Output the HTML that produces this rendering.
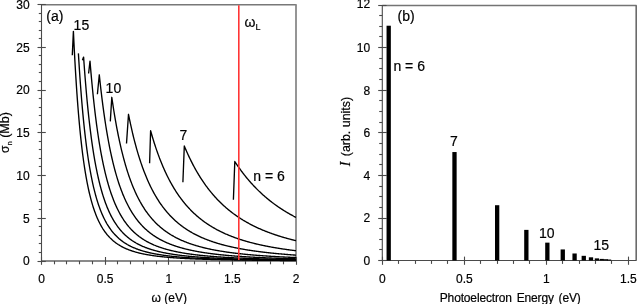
<!DOCTYPE html>
<html><head><meta charset="utf-8"><style>
html,body{margin:0;padding:0;background:#fff;}
body{width:637px;height:304px;overflow:hidden;}
svg{display:block;font-family:"Liberation Sans", sans-serif;will-change:transform;}
text{fill:#000;stroke:#000;stroke-width:0.2px;}
</style></head><body>
<svg width="637" height="304" viewBox="0 0 637 304">
<line x1="41.5" y1="4.75" x2="296.5" y2="4.75" stroke="#787878" stroke-width="1.6"/>
<line x1="296.0" y1="4.5" x2="296.0" y2="261.0" stroke="#8a8a8a" stroke-width="1.8"/>
<line x1="41.5" y1="261.0" x2="296.0" y2="261.0" stroke="#8a8a8a" stroke-width="1.8"/>
<line x1="41.5" y1="4.5" x2="41.5" y2="261.0" stroke="#4a4a4a" stroke-width="1.1"/>
<line x1="37.5" y1="261.50" x2="45.8" y2="261.50" stroke="#4a4a4a" stroke-width="1.1"/>
<line x1="38.8" y1="252.50" x2="41.5" y2="252.50" stroke="#4a4a4a" stroke-width="1.1"/>
<line x1="38.8" y1="243.50" x2="41.5" y2="243.50" stroke="#4a4a4a" stroke-width="1.1"/>
<line x1="38.8" y1="235.50" x2="41.5" y2="235.50" stroke="#4a4a4a" stroke-width="1.1"/>
<line x1="38.8" y1="226.50" x2="41.5" y2="226.50" stroke="#4a4a4a" stroke-width="1.1"/>
<line x1="37.5" y1="218.50" x2="45.8" y2="218.50" stroke="#4a4a4a" stroke-width="1.1"/>
<line x1="38.8" y1="209.50" x2="41.5" y2="209.50" stroke="#4a4a4a" stroke-width="1.1"/>
<line x1="38.8" y1="201.50" x2="41.5" y2="201.50" stroke="#4a4a4a" stroke-width="1.1"/>
<line x1="38.8" y1="192.50" x2="41.5" y2="192.50" stroke="#4a4a4a" stroke-width="1.1"/>
<line x1="38.8" y1="184.50" x2="41.5" y2="184.50" stroke="#4a4a4a" stroke-width="1.1"/>
<line x1="37.5" y1="175.50" x2="45.8" y2="175.50" stroke="#4a4a4a" stroke-width="1.1"/>
<line x1="38.8" y1="166.50" x2="41.5" y2="166.50" stroke="#4a4a4a" stroke-width="1.1"/>
<line x1="38.8" y1="158.50" x2="41.5" y2="158.50" stroke="#4a4a4a" stroke-width="1.1"/>
<line x1="38.8" y1="149.50" x2="41.5" y2="149.50" stroke="#4a4a4a" stroke-width="1.1"/>
<line x1="38.8" y1="141.50" x2="41.5" y2="141.50" stroke="#4a4a4a" stroke-width="1.1"/>
<line x1="37.5" y1="132.50" x2="45.8" y2="132.50" stroke="#4a4a4a" stroke-width="1.1"/>
<line x1="38.8" y1="124.50" x2="41.5" y2="124.50" stroke="#4a4a4a" stroke-width="1.1"/>
<line x1="38.8" y1="115.50" x2="41.5" y2="115.50" stroke="#4a4a4a" stroke-width="1.1"/>
<line x1="38.8" y1="107.50" x2="41.5" y2="107.50" stroke="#4a4a4a" stroke-width="1.1"/>
<line x1="38.8" y1="98.50" x2="41.5" y2="98.50" stroke="#4a4a4a" stroke-width="1.1"/>
<line x1="37.5" y1="90.50" x2="45.8" y2="90.50" stroke="#4a4a4a" stroke-width="1.1"/>
<line x1="38.8" y1="81.50" x2="41.5" y2="81.50" stroke="#4a4a4a" stroke-width="1.1"/>
<line x1="38.8" y1="72.50" x2="41.5" y2="72.50" stroke="#4a4a4a" stroke-width="1.1"/>
<line x1="38.8" y1="64.50" x2="41.5" y2="64.50" stroke="#4a4a4a" stroke-width="1.1"/>
<line x1="38.8" y1="55.50" x2="41.5" y2="55.50" stroke="#4a4a4a" stroke-width="1.1"/>
<line x1="37.5" y1="47.50" x2="45.8" y2="47.50" stroke="#4a4a4a" stroke-width="1.1"/>
<line x1="38.8" y1="38.50" x2="41.5" y2="38.50" stroke="#4a4a4a" stroke-width="1.1"/>
<line x1="38.8" y1="30.50" x2="41.5" y2="30.50" stroke="#4a4a4a" stroke-width="1.1"/>
<line x1="38.8" y1="21.50" x2="41.5" y2="21.50" stroke="#4a4a4a" stroke-width="1.1"/>
<line x1="38.8" y1="13.50" x2="41.5" y2="13.50" stroke="#4a4a4a" stroke-width="1.1"/>
<line x1="37.5" y1="4.50" x2="45.8" y2="4.50" stroke="#4a4a4a" stroke-width="1.1"/>
<line x1="41.50" y1="257" x2="41.50" y2="264.8" stroke="#4a4a4a" stroke-width="1.1"/>
<line x1="54.50" y1="261.0" x2="54.50" y2="264.3" stroke="#4a4a4a" stroke-width="1.1"/>
<line x1="66.50" y1="261.0" x2="66.50" y2="264.3" stroke="#4a4a4a" stroke-width="1.1"/>
<line x1="79.50" y1="261.0" x2="79.50" y2="264.3" stroke="#4a4a4a" stroke-width="1.1"/>
<line x1="92.50" y1="261.0" x2="92.50" y2="264.3" stroke="#4a4a4a" stroke-width="1.1"/>
<line x1="105.50" y1="257" x2="105.50" y2="264.8" stroke="#4a4a4a" stroke-width="1.1"/>
<line x1="117.50" y1="261.0" x2="117.50" y2="264.3" stroke="#4a4a4a" stroke-width="1.1"/>
<line x1="130.50" y1="261.0" x2="130.50" y2="264.3" stroke="#4a4a4a" stroke-width="1.1"/>
<line x1="143.50" y1="261.0" x2="143.50" y2="264.3" stroke="#4a4a4a" stroke-width="1.1"/>
<line x1="156.50" y1="261.0" x2="156.50" y2="264.3" stroke="#4a4a4a" stroke-width="1.1"/>
<line x1="168.50" y1="257" x2="168.50" y2="264.8" stroke="#4a4a4a" stroke-width="1.1"/>
<line x1="181.50" y1="261.0" x2="181.50" y2="264.3" stroke="#4a4a4a" stroke-width="1.1"/>
<line x1="194.50" y1="261.0" x2="194.50" y2="264.3" stroke="#4a4a4a" stroke-width="1.1"/>
<line x1="206.50" y1="261.0" x2="206.50" y2="264.3" stroke="#4a4a4a" stroke-width="1.1"/>
<line x1="219.50" y1="261.0" x2="219.50" y2="264.3" stroke="#4a4a4a" stroke-width="1.1"/>
<line x1="232.50" y1="257" x2="232.50" y2="264.8" stroke="#4a4a4a" stroke-width="1.1"/>
<line x1="245.50" y1="261.0" x2="245.50" y2="264.3" stroke="#4a4a4a" stroke-width="1.1"/>
<line x1="257.50" y1="261.0" x2="257.50" y2="264.3" stroke="#4a4a4a" stroke-width="1.1"/>
<line x1="270.50" y1="261.0" x2="270.50" y2="264.3" stroke="#4a4a4a" stroke-width="1.1"/>
<line x1="283.50" y1="261.0" x2="283.50" y2="264.3" stroke="#4a4a4a" stroke-width="1.1"/>
<line x1="296.50" y1="257" x2="296.50" y2="264.8" stroke="#4a4a4a" stroke-width="1.1"/>
<line x1="382.3" y1="5.5" x2="636.5" y2="5.5" stroke="#747474" stroke-width="1.6"/>
<line x1="636.2" y1="5.3" x2="636.2" y2="260.5" stroke="#6a6a6a" stroke-width="1.6"/>
<line x1="382.3" y1="260.5" x2="636.5" y2="260.5" stroke="#4a4a4a" stroke-width="1.1"/>
<line x1="382.3" y1="5.3" x2="382.3" y2="260.5" stroke="#4a4a4a" stroke-width="1.1"/>
<line x1="378.2" y1="260.50" x2="386.6" y2="260.50" stroke="#4a4a4a" stroke-width="1.1"/>
<line x1="379.2" y1="249.50" x2="382.3" y2="249.50" stroke="#4a4a4a" stroke-width="1.1"/>
<line x1="379.2" y1="239.50" x2="382.3" y2="239.50" stroke="#4a4a4a" stroke-width="1.1"/>
<line x1="379.2" y1="228.50" x2="382.3" y2="228.50" stroke="#4a4a4a" stroke-width="1.1"/>
<line x1="378.2" y1="218.50" x2="386.6" y2="218.50" stroke="#4a4a4a" stroke-width="1.1"/>
<line x1="379.2" y1="207.50" x2="382.3" y2="207.50" stroke="#4a4a4a" stroke-width="1.1"/>
<line x1="379.2" y1="196.50" x2="382.3" y2="196.50" stroke="#4a4a4a" stroke-width="1.1"/>
<line x1="379.2" y1="186.50" x2="382.3" y2="186.50" stroke="#4a4a4a" stroke-width="1.1"/>
<line x1="378.2" y1="175.50" x2="386.6" y2="175.50" stroke="#4a4a4a" stroke-width="1.1"/>
<line x1="379.2" y1="164.50" x2="382.3" y2="164.50" stroke="#4a4a4a" stroke-width="1.1"/>
<line x1="379.2" y1="154.50" x2="382.3" y2="154.50" stroke="#4a4a4a" stroke-width="1.1"/>
<line x1="379.2" y1="143.50" x2="382.3" y2="143.50" stroke="#4a4a4a" stroke-width="1.1"/>
<line x1="378.2" y1="132.50" x2="386.6" y2="132.50" stroke="#4a4a4a" stroke-width="1.1"/>
<line x1="379.2" y1="122.50" x2="382.3" y2="122.50" stroke="#4a4a4a" stroke-width="1.1"/>
<line x1="379.2" y1="111.50" x2="382.3" y2="111.50" stroke="#4a4a4a" stroke-width="1.1"/>
<line x1="379.2" y1="100.50" x2="382.3" y2="100.50" stroke="#4a4a4a" stroke-width="1.1"/>
<line x1="378.2" y1="90.50" x2="386.6" y2="90.50" stroke="#4a4a4a" stroke-width="1.1"/>
<line x1="379.2" y1="79.50" x2="382.3" y2="79.50" stroke="#4a4a4a" stroke-width="1.1"/>
<line x1="379.2" y1="68.50" x2="382.3" y2="68.50" stroke="#4a4a4a" stroke-width="1.1"/>
<line x1="379.2" y1="58.50" x2="382.3" y2="58.50" stroke="#4a4a4a" stroke-width="1.1"/>
<line x1="378.2" y1="47.50" x2="386.6" y2="47.50" stroke="#4a4a4a" stroke-width="1.1"/>
<line x1="379.2" y1="36.50" x2="382.3" y2="36.50" stroke="#4a4a4a" stroke-width="1.1"/>
<line x1="379.2" y1="26.50" x2="382.3" y2="26.50" stroke="#4a4a4a" stroke-width="1.1"/>
<line x1="379.2" y1="15.50" x2="382.3" y2="15.50" stroke="#4a4a4a" stroke-width="1.1"/>
<line x1="378.2" y1="5.50" x2="386.6" y2="5.50" stroke="#4a4a4a" stroke-width="1.1"/>
<line x1="382.50" y1="256.6" x2="382.50" y2="264.8" stroke="#4a4a4a" stroke-width="1.1"/>
<line x1="398.50" y1="260.5" x2="398.50" y2="263.9" stroke="#4a4a4a" stroke-width="1.1"/>
<line x1="415.50" y1="260.5" x2="415.50" y2="263.9" stroke="#4a4a4a" stroke-width="1.1"/>
<line x1="431.50" y1="260.5" x2="431.50" y2="263.9" stroke="#4a4a4a" stroke-width="1.1"/>
<line x1="447.50" y1="260.5" x2="447.50" y2="263.9" stroke="#4a4a4a" stroke-width="1.1"/>
<line x1="464.50" y1="256.6" x2="464.50" y2="264.8" stroke="#4a4a4a" stroke-width="1.1"/>
<line x1="480.50" y1="260.5" x2="480.50" y2="263.9" stroke="#4a4a4a" stroke-width="1.1"/>
<line x1="497.50" y1="260.5" x2="497.50" y2="263.9" stroke="#4a4a4a" stroke-width="1.1"/>
<line x1="513.50" y1="260.5" x2="513.50" y2="263.9" stroke="#4a4a4a" stroke-width="1.1"/>
<line x1="529.50" y1="260.5" x2="529.50" y2="263.9" stroke="#4a4a4a" stroke-width="1.1"/>
<line x1="546.50" y1="256.6" x2="546.50" y2="264.8" stroke="#4a4a4a" stroke-width="1.1"/>
<line x1="562.50" y1="260.5" x2="562.50" y2="263.9" stroke="#4a4a4a" stroke-width="1.1"/>
<line x1="579.50" y1="260.5" x2="579.50" y2="263.9" stroke="#4a4a4a" stroke-width="1.1"/>
<line x1="595.50" y1="260.5" x2="595.50" y2="263.9" stroke="#4a4a4a" stroke-width="1.1"/>
<line x1="611.50" y1="260.5" x2="611.50" y2="263.9" stroke="#4a4a4a" stroke-width="1.1"/>
<line x1="628.50" y1="256.6" x2="628.50" y2="264.8" stroke="#4a4a4a" stroke-width="1.1"/>
<path d="M72.30,55.20 L73.40,31.40 L73.91,42.05 L74.42,52.05 L74.93,61.45 L75.44,70.30 L75.95,78.62 L76.45,86.48 L76.96,93.88 L77.47,100.88 L77.98,107.49 L78.49,113.74 L79.00,119.65 L79.51,125.26 L80.02,130.57 L80.53,135.60 L81.04,140.39 L81.54,144.93 L82.05,149.24 L82.56,153.35 L83.07,157.25 L83.58,160.97 L84.09,164.52 L84.60,167.90 L85.11,171.12 L85.62,174.19 L86.13,177.13 L86.63,179.94 L87.14,182.62 L87.65,185.18 L88.16,187.64 L88.67,189.99 L89.18,192.24 L89.69,194.39 L90.20,196.46 L90.71,198.44 L91.22,200.34 L91.72,202.17 L92.23,203.92 L92.74,205.61 L93.25,207.22 L93.76,208.78 L94.27,210.28 L94.78,211.72 L95.29,213.10 L95.80,214.44 L96.31,215.72 L96.81,216.96 L97.32,218.15 L97.83,219.31 L98.34,220.42 L98.85,221.49 L99.36,222.52 L99.87,223.52 L100.38,224.48 L100.89,225.41 L101.40,226.31 L101.90,227.18 L102.41,228.02 L102.92,228.84 L103.43,229.62 L103.94,230.38 L104.45,231.12 L104.96,231.83 L105.47,232.52 L105.98,233.19 L106.49,233.84 L106.99,234.47 L107.50,235.08 L108.01,235.67 L108.52,236.24 L109.03,236.80 L109.54,237.34 L110.05,237.86 L110.56,238.37 L111.07,238.86 L111.58,239.34 L112.08,239.81 L112.59,240.26 L113.10,240.70 L113.61,241.12 L114.12,241.54 L114.63,241.94 L115.14,242.33 L115.65,242.72 L116.16,243.09 L116.67,243.45 L117.17,243.80 L117.68,244.14 L118.19,244.48 L118.70,244.80 L119.21,245.12 L119.72,245.43 L120.23,245.73 L120.74,246.02 L121.25,246.30 L121.76,246.58 L122.26,246.85 L122.77,247.12 L123.28,247.37 L123.79,247.63 L124.30,247.87 L124.81,248.11 L125.32,248.34 L125.83,248.57 L126.34,248.79 L126.85,249.01 L127.35,249.22 L127.86,249.43 L128.37,249.63 L128.88,249.83 L129.39,250.02 L129.90,250.21 L130.41,250.39 L130.92,250.57 L131.43,250.75 L131.94,250.92 L132.44,251.09 L132.95,251.26 L133.46,251.42 L133.97,251.57 L134.48,251.73 L134.99,251.88 L135.50,252.03 L136.01,252.17 L136.52,252.31 L137.03,252.45 L137.53,252.58 L138.04,252.72 L138.55,252.85 L139.06,252.97 L139.57,253.10 L140.08,253.22 L140.59,253.34 L141.10,253.46 L141.61,253.57 L142.12,253.68 L142.62,253.79 L143.13,253.90 L143.64,254.01 L144.15,254.11 L144.66,254.21 L145.17,254.31 L145.68,254.41 L146.19,254.50 L146.70,254.60 L147.21,254.69 L147.71,254.78 L148.22,254.87 L148.73,254.96 L149.24,255.04 L149.75,255.12 L150.26,255.21 L150.77,255.29 L151.28,255.37 L151.79,255.44 L152.30,255.52 L152.80,255.59 L153.31,255.67 L153.82,255.74 L154.33,255.81 L154.84,255.88 L155.35,255.95 L155.86,256.02 L156.37,256.08 L156.88,256.15 L157.39,256.21 L157.89,256.27 L158.40,256.33 L158.91,256.40 L159.42,256.45 L159.93,256.51 L160.44,256.57 L160.95,256.63 L161.46,256.68 L161.97,256.74 L162.48,256.79 L162.98,256.84 L163.49,256.89 L164.00,256.95 L164.51,257.00 L165.02,257.05 L165.53,257.09 L166.04,257.14 L166.55,257.19 L167.06,257.23 L167.57,257.28 L168.07,257.32 L168.58,257.37 L169.09,257.41 L169.60,257.45 L170.11,257.50 L170.62,257.54 L171.13,257.58 L171.64,257.62 L172.15,257.66 L172.66,257.70 L173.16,257.73 L173.67,257.77 L174.18,257.81 L174.69,257.85 L175.20,257.88 L175.71,257.92 L176.22,257.95 L176.73,257.99 L177.24,258.02 L177.75,258.05 L178.25,258.09 L178.76,258.12 L179.27,258.15 L179.78,258.18 L180.29,258.21 L180.80,258.24 L181.31,258.27 L181.82,258.30 L182.33,258.33 L182.84,258.36 L183.34,258.39 L183.85,258.42 L184.36,258.44 L184.87,258.47 L185.38,258.50 L185.89,258.52 L186.40,258.55 L186.91,258.58 L187.42,258.60 L187.93,258.63 L188.43,258.65 L188.94,258.67 L189.45,258.70 L189.96,258.72 L190.47,258.75 L190.98,258.77 L191.49,258.79 L192.00,258.81 L192.51,258.84 L193.02,258.86 L193.52,258.88 L194.03,258.90 L194.54,258.92 L195.05,258.94 L195.56,258.96 L196.07,258.98 L196.58,259.00 L197.09,259.02 L197.60,259.04 L198.11,259.06 L198.61,259.08 L199.12,259.10 L199.63,259.12 L200.14,259.13 L200.65,259.15 L201.16,259.17 L201.67,259.19 L202.18,259.20 L202.69,259.22 L203.20,259.24 L203.70,259.25 L204.21,259.27 L204.72,259.29 L205.23,259.30 L205.74,259.32 L206.25,259.33 L206.76,259.35 L207.27,259.36 L207.78,259.38 L208.29,259.39 L208.79,259.41 L209.30,259.42 L209.81,259.44 L210.32,259.45 L210.83,259.46 L211.34,259.48 L211.85,259.49 L212.36,259.51 L212.87,259.52 L213.38,259.53 L213.88,259.55 L214.39,259.56 L214.90,259.57 L215.41,259.58 L215.92,259.60 L216.43,259.61 L216.94,259.62 L217.45,259.63 L217.96,259.64 L218.47,259.66 L218.97,259.67 L219.48,259.68 L219.99,259.69 L220.50,259.70 L221.01,259.71 L221.52,259.72 L222.03,259.73 L222.54,259.74 L223.05,259.75 L223.56,259.76 L224.06,259.78 L224.57,259.79 L225.08,259.80 L225.59,259.81 L226.10,259.82 L226.61,259.82 L227.12,259.83 L227.63,259.84 L228.14,259.85 L228.65,259.86 L229.15,259.87 L229.66,259.88 L230.17,259.89 L230.68,259.90 L231.19,259.91 L231.70,259.92 L232.21,259.93 L232.72,259.93 L233.23,259.94 L233.74,259.95 L234.24,259.96 L234.75,259.97 L235.26,259.98 L235.77,259.98 L236.28,259.99 L236.79,260.00 L237.30,260.01 L237.81,260.01 L238.32,260.02 L238.83,260.03 L239.33,260.04 L239.84,260.04 L240.35,260.05 L240.86,260.06 L241.37,260.07 L241.88,260.07 L242.39,260.08 L242.90,260.09 L243.41,260.09 L243.92,260.10 L244.42,260.11 L244.93,260.11 L245.44,260.12 L245.95,260.13 L246.46,260.13 L246.97,260.14 L247.48,260.15 L247.99,260.15 L248.50,260.16 L249.01,260.17 L249.51,260.17 L250.02,260.18 L250.53,260.18 L251.04,260.19 L251.55,260.20 L252.06,260.20 L252.57,260.21 L253.08,260.21 L253.59,260.22 L254.10,260.22 L254.60,260.23 L255.11,260.24 L255.62,260.24 L256.13,260.25 L256.64,260.25 L257.15,260.26 L257.66,260.26 L258.17,260.27 L258.68,260.27 L259.19,260.28 L259.69,260.28 L260.20,260.29 L260.71,260.29 L261.22,260.30 L261.73,260.30 L262.24,260.31 L262.75,260.31 L263.26,260.32 L263.77,260.32 L264.28,260.33 L264.78,260.33 L265.29,260.34 L265.80,260.34 L266.31,260.34 L266.82,260.35 L267.33,260.35 L267.84,260.36 L268.35,260.36 L268.86,260.37 L269.37,260.37 L269.87,260.37 L270.38,260.38 L270.89,260.38 L271.40,260.39 L271.91,260.39 L272.42,260.39 L272.93,260.40 L273.44,260.40 L273.95,260.41 L274.46,260.41 L274.96,260.41 L275.47,260.42 L275.98,260.42 L276.49,260.43 L277.00,260.43 L277.51,260.43 L278.02,260.44 L278.53,260.44 L279.04,260.44 L279.55,260.45 L280.05,260.45 L280.56,260.45 L281.07,260.46 L281.58,260.46 L282.09,260.46 L282.60,260.47 L283.11,260.47 L283.62,260.47 L284.13,260.48 L284.64,260.48 L285.14,260.48 L285.65,260.49 L286.16,260.49 L286.67,260.49 L287.18,260.50 L287.69,260.50 L288.20,260.50 L288.71,260.51 L289.22,260.51 L289.73,260.51 L290.23,260.52 L290.74,260.52 L291.25,260.52 L291.76,260.52 L292.27,260.53 L292.78,260.53 L293.29,260.53 L293.80,260.54 L294.31,260.54 L294.82,260.54 L295.32,260.54 L295.83,260.55 L296.00,260.55" fill="none" stroke="#000" stroke-width="1.35" stroke-linejoin="round"/>
<path d="M78.40,53.40 L78.91,61.76 L79.42,69.68 L79.93,77.18 L80.44,84.29 L80.95,91.05 L81.45,97.46 L81.96,103.55 L82.47,109.35 L82.98,114.86 L83.49,120.11 L84.00,125.12 L84.51,129.88 L85.02,134.43 L85.53,138.77 L86.04,142.91 L86.54,146.87 L87.05,150.65 L87.56,154.27 L88.07,157.73 L88.58,161.05 L89.09,164.22 L89.60,167.26 L90.11,170.17 L90.62,172.97 L91.13,175.65 L91.63,178.22 L92.14,180.69 L92.65,183.07 L93.16,185.35 L93.67,187.54 L94.18,189.65 L94.69,191.68 L95.20,193.63 L95.71,195.51 L96.22,197.32 L96.72,199.07 L97.23,200.75 L97.74,202.37 L98.25,203.93 L98.76,205.44 L99.27,206.90 L99.78,208.30 L100.29,209.66 L100.80,210.97 L101.31,212.24 L101.81,213.46 L102.32,214.64 L102.83,215.79 L103.34,216.90 L103.85,217.97 L104.36,219.00 L104.87,220.01 L105.38,220.98 L105.89,221.92 L106.40,222.83 L106.90,223.72 L107.41,224.58 L107.92,225.41 L108.43,226.21 L108.94,226.99 L109.45,227.75 L109.96,228.49 L110.47,229.20 L110.98,229.90 L111.49,230.57 L111.99,231.23 L112.50,231.86 L113.01,232.48 L113.52,233.08 L114.03,233.66 L114.54,234.23 L115.05,234.78 L115.56,235.32 L116.07,235.84 L116.58,236.35 L117.08,236.84 L117.59,237.33 L118.10,237.79 L118.61,238.25 L119.12,238.70 L119.63,239.13 L120.14,239.55 L120.65,239.96 L121.16,240.36 L121.67,240.75 L122.17,241.13 L122.68,241.51 L123.19,241.87 L123.70,242.22 L124.21,242.57 L124.72,242.90 L125.23,243.23 L125.74,243.55 L126.25,243.86 L126.76,244.17 L127.26,244.47 L127.77,244.76 L128.28,245.04 L128.79,245.32 L129.30,245.59 L129.81,245.85 L130.32,246.11 L130.83,246.37 L131.34,246.61 L131.85,246.86 L132.35,247.09 L132.86,247.32 L133.37,247.55 L133.88,247.77 L134.39,247.99 L134.90,248.20 L135.41,248.40 L135.92,248.61 L136.43,248.81 L136.94,249.00 L137.44,249.19 L137.95,249.38 L138.46,249.56 L138.97,249.74 L139.48,249.91 L139.99,250.08 L140.50,250.25 L141.01,250.41 L141.52,250.57 L142.03,250.73 L142.53,250.89 L143.04,251.04 L143.55,251.19 L144.06,251.33 L144.57,251.47 L145.08,251.61 L145.59,251.75 L146.10,251.89 L146.61,252.02 L147.12,252.15 L147.62,252.27 L148.13,252.40 L148.64,252.52 L149.15,252.64 L149.66,252.76 L150.17,252.87 L150.68,252.99 L151.19,253.10 L151.70,253.21 L152.21,253.31 L152.71,253.42 L153.22,253.52 L153.73,253.62 L154.24,253.72 L154.75,253.82 L155.26,253.91 L155.77,254.01 L156.28,254.10 L156.79,254.19 L157.30,254.28 L157.80,254.37 L158.31,254.46 L158.82,254.54 L159.33,254.62 L159.84,254.71 L160.35,254.79 L160.86,254.87 L161.37,254.94 L161.88,255.02 L162.39,255.10 L162.89,255.17 L163.40,255.24 L163.91,255.31 L164.42,255.38 L164.93,255.45 L165.44,255.52 L165.95,255.59 L166.46,255.65 L166.97,255.72 L167.48,255.78 L167.98,255.85 L168.49,255.91 L169.00,255.97 L169.51,256.03 L170.02,256.09 L170.53,256.14 L171.04,256.20 L171.55,256.26 L172.06,256.31 L172.57,256.37 L173.07,256.42 L173.58,256.47 L174.09,256.53 L174.60,256.58 L175.11,256.63 L175.62,256.68 L176.13,256.73 L176.64,256.77 L177.15,256.82 L177.66,256.87 L178.16,256.91 L178.67,256.96 L179.18,257.00 L179.69,257.05 L180.20,257.09 L180.71,257.13 L181.22,257.18 L181.73,257.22 L182.24,257.26 L182.75,257.30 L183.25,257.34 L183.76,257.38 L184.27,257.42 L184.78,257.45 L185.29,257.49 L185.80,257.53 L186.31,257.56 L186.82,257.60 L187.33,257.64 L187.84,257.67 L188.34,257.71 L188.85,257.74 L189.36,257.77 L189.87,257.81 L190.38,257.84 L190.89,257.87 L191.40,257.90 L191.91,257.93 L192.42,257.97 L192.93,258.00 L193.43,258.03 L193.94,258.06 L194.45,258.08 L194.96,258.11 L195.47,258.14 L195.98,258.17 L196.49,258.20 L197.00,258.23 L197.51,258.25 L198.02,258.28 L198.52,258.31 L199.03,258.33 L199.54,258.36 L200.05,258.38 L200.56,258.41 L201.07,258.43 L201.58,258.46 L202.09,258.48 L202.60,258.51 L203.11,258.53 L203.61,258.55 L204.12,258.57 L204.63,258.60 L205.14,258.62 L205.65,258.64 L206.16,258.66 L206.67,258.69 L207.18,258.71 L207.69,258.73 L208.20,258.75 L208.70,258.77 L209.21,258.79 L209.72,258.81 L210.23,258.83 L210.74,258.85 L211.25,258.87 L211.76,258.89 L212.27,258.91 L212.78,258.92 L213.29,258.94 L213.79,258.96 L214.30,258.98 L214.81,259.00 L215.32,259.01 L215.83,259.03 L216.34,259.05 L216.85,259.07 L217.36,259.08 L217.87,259.10 L218.38,259.12 L218.88,259.13 L219.39,259.15 L219.90,259.16 L220.41,259.18 L220.92,259.19 L221.43,259.21 L221.94,259.22 L222.45,259.24 L222.96,259.25 L223.47,259.27 L223.97,259.28 L224.48,259.30 L224.99,259.31 L225.50,259.33 L226.01,259.34 L226.52,259.35 L227.03,259.37 L227.54,259.38 L228.05,259.39 L228.56,259.41 L229.06,259.42 L229.57,259.43 L230.08,259.44 L230.59,259.46 L231.10,259.47 L231.61,259.48 L232.12,259.49 L232.63,259.51 L233.14,259.52 L233.65,259.53 L234.15,259.54 L234.66,259.55 L235.17,259.56 L235.68,259.58 L236.19,259.59 L236.70,259.60 L237.21,259.61 L237.72,259.62 L238.23,259.63 L238.74,259.64 L239.24,259.65 L239.75,259.66 L240.26,259.67 L240.77,259.68 L241.28,259.69 L241.79,259.70 L242.30,259.71 L242.81,259.72 L243.32,259.73 L243.83,259.74 L244.33,259.75 L244.84,259.76 L245.35,259.77 L245.86,259.78 L246.37,259.79 L246.88,259.80 L247.39,259.80 L247.90,259.81 L248.41,259.82 L248.92,259.83 L249.42,259.84 L249.93,259.85 L250.44,259.86 L250.95,259.86 L251.46,259.87 L251.97,259.88 L252.48,259.89 L252.99,259.90 L253.50,259.91 L254.01,259.91 L254.51,259.92 L255.02,259.93 L255.53,259.94 L256.04,259.94 L256.55,259.95 L257.06,259.96 L257.57,259.97 L258.08,259.97 L258.59,259.98 L259.10,259.99 L259.60,259.99 L260.11,260.00 L260.62,260.01 L261.13,260.02 L261.64,260.02 L262.15,260.03 L262.66,260.04 L263.17,260.04 L263.68,260.05 L264.19,260.06 L264.69,260.06 L265.20,260.07 L265.71,260.07 L266.22,260.08 L266.73,260.09 L267.24,260.09 L267.75,260.10 L268.26,260.11 L268.77,260.11 L269.28,260.12 L269.78,260.12 L270.29,260.13 L270.80,260.13 L271.31,260.14 L271.82,260.15 L272.33,260.15 L272.84,260.16 L273.35,260.16 L273.86,260.17 L274.37,260.17 L274.87,260.18 L275.38,260.18 L275.89,260.19 L276.40,260.20 L276.91,260.20 L277.42,260.21 L277.93,260.21 L278.44,260.22 L278.95,260.22 L279.46,260.23 L279.96,260.23 L280.47,260.24 L280.98,260.24 L281.49,260.25 L282.00,260.25 L282.51,260.25 L283.02,260.26 L283.53,260.26 L284.04,260.27 L284.55,260.27 L285.05,260.28 L285.56,260.28 L286.07,260.29 L286.58,260.29 L287.09,260.30 L287.60,260.30 L288.11,260.30 L288.62,260.31 L289.13,260.31 L289.64,260.32 L290.14,260.32 L290.65,260.33 L291.16,260.33 L291.67,260.33 L292.18,260.34 L292.69,260.34 L293.20,260.35 L293.71,260.35 L294.22,260.35 L294.73,260.36 L295.23,260.36 L295.74,260.37 L296.00,260.37" fill="none" stroke="#000" stroke-width="1.35" stroke-linejoin="round"/>
<path d="M82.40,60.30 L83.60,57.10 L84.11,64.32 L84.62,71.20 L85.13,77.77 L85.64,84.04 L86.14,90.02 L86.65,95.74 L87.16,101.20 L87.67,106.43 L88.18,111.43 L88.69,116.22 L89.20,120.80 L89.71,125.20 L90.22,129.41 L90.73,133.45 L91.23,137.33 L91.74,141.05 L92.25,144.62 L92.76,148.05 L93.27,151.35 L93.78,154.52 L94.29,157.57 L94.80,160.51 L95.31,163.33 L95.82,166.05 L96.33,168.67 L96.83,171.20 L97.34,173.63 L97.85,175.98 L98.36,178.24 L98.87,180.42 L99.38,182.53 L99.89,184.56 L100.40,186.53 L100.91,188.43 L101.42,190.26 L101.92,192.03 L102.43,193.75 L102.94,195.41 L103.45,197.01 L103.96,198.56 L104.47,200.06 L104.98,201.52 L105.49,202.93 L106.00,204.29 L106.51,205.61 L107.01,206.89 L107.52,208.13 L108.03,209.34 L108.54,210.51 L109.05,211.64 L109.56,212.74 L110.07,213.80 L110.58,214.84 L111.09,215.85 L111.60,216.82 L112.10,217.77 L112.61,218.69 L113.12,219.59 L113.63,220.46 L114.14,221.30 L114.65,222.13 L115.16,222.93 L115.67,223.71 L116.18,224.46 L116.69,225.20 L117.19,225.92 L117.70,226.62 L118.21,227.30 L118.72,227.96 L119.23,228.60 L119.74,229.23 L120.25,229.84 L120.76,230.44 L121.27,231.02 L121.78,231.59 L122.28,232.14 L122.79,232.68 L123.30,233.20 L123.81,233.72 L124.32,234.22 L124.83,234.70 L125.34,235.18 L125.85,235.65 L126.36,236.10 L126.87,236.54 L127.37,236.97 L127.88,237.40 L128.39,237.81 L128.90,238.21 L129.41,238.61 L129.92,238.99 L130.43,239.37 L130.94,239.73 L131.45,240.09 L131.96,240.44 L132.46,240.79 L132.97,241.12 L133.48,241.45 L133.99,241.77 L134.50,242.08 L135.01,242.39 L135.52,242.69 L136.03,242.99 L136.54,243.27 L137.05,243.56 L137.55,243.83 L138.06,244.10 L138.57,244.37 L139.08,244.63 L139.59,244.88 L140.10,245.13 L140.61,245.37 L141.12,245.61 L141.63,245.84 L142.14,246.07 L142.64,246.30 L143.15,246.52 L143.66,246.73 L144.17,246.94 L144.68,247.15 L145.19,247.35 L145.70,247.55 L146.21,247.75 L146.72,247.94 L147.23,248.13 L147.73,248.31 L148.24,248.49 L148.75,248.67 L149.26,248.84 L149.77,249.01 L150.28,249.18 L150.79,249.34 L151.30,249.51 L151.81,249.66 L152.32,249.82 L152.82,249.97 L153.33,250.12 L153.84,250.27 L154.35,250.41 L154.86,250.56 L155.37,250.70 L155.88,250.83 L156.39,250.97 L156.90,251.10 L157.41,251.23 L157.91,251.36 L158.42,251.48 L158.93,251.60 L159.44,251.73 L159.95,251.85 L160.46,251.96 L160.97,252.08 L161.48,252.19 L161.99,252.30 L162.50,252.41 L163.00,252.52 L163.51,252.62 L164.02,252.73 L164.53,252.83 L165.04,252.93 L165.55,253.03 L166.06,253.13 L166.57,253.22 L167.08,253.32 L167.59,253.41 L168.09,253.50 L168.60,253.59 L169.11,253.68 L169.62,253.77 L170.13,253.85 L170.64,253.94 L171.15,254.02 L171.66,254.10 L172.17,254.18 L172.68,254.26 L173.18,254.34 L173.69,254.41 L174.20,254.49 L174.71,254.56 L175.22,254.64 L175.73,254.71 L176.24,254.78 L176.75,254.85 L177.26,254.92 L177.77,254.99 L178.27,255.05 L178.78,255.12 L179.29,255.18 L179.80,255.25 L180.31,255.31 L180.82,255.37 L181.33,255.43 L181.84,255.50 L182.35,255.55 L182.86,255.61 L183.36,255.67 L183.87,255.73 L184.38,255.78 L184.89,255.84 L185.40,255.89 L185.91,255.95 L186.42,256.00 L186.93,256.05 L187.44,256.10 L187.95,256.16 L188.45,256.21 L188.96,256.26 L189.47,256.30 L189.98,256.35 L190.49,256.40 L191.00,256.45 L191.51,256.49 L192.02,256.54 L192.53,256.58 L193.04,256.63 L193.54,256.67 L194.05,256.71 L194.56,256.76 L195.07,256.80 L195.58,256.84 L196.09,256.88 L196.60,256.92 L197.11,256.96 L197.62,257.00 L198.13,257.04 L198.63,257.08 L199.14,257.12 L199.65,257.15 L200.16,257.19 L200.67,257.23 L201.18,257.26 L201.69,257.30 L202.20,257.33 L202.71,257.37 L203.22,257.40 L203.72,257.44 L204.23,257.47 L204.74,257.50 L205.25,257.53 L205.76,257.57 L206.27,257.60 L206.78,257.63 L207.29,257.66 L207.80,257.69 L208.31,257.72 L208.81,257.75 L209.32,257.78 L209.83,257.81 L210.34,257.84 L210.85,257.87 L211.36,257.90 L211.87,257.92 L212.38,257.95 L212.89,257.98 L213.40,258.00 L213.90,258.03 L214.41,258.06 L214.92,258.08 L215.43,258.11 L215.94,258.13 L216.45,258.16 L216.96,258.18 L217.47,258.21 L217.98,258.23 L218.49,258.26 L218.99,258.28 L219.50,258.30 L220.01,258.33 L220.52,258.35 L221.03,258.37 L221.54,258.39 L222.05,258.41 L222.56,258.44 L223.07,258.46 L223.58,258.48 L224.08,258.50 L224.59,258.52 L225.10,258.54 L225.61,258.56 L226.12,258.58 L226.63,258.60 L227.14,258.62 L227.65,258.64 L228.16,258.66 L228.67,258.68 L229.17,258.70 L229.68,258.72 L230.19,258.74 L230.70,258.75 L231.21,258.77 L231.72,258.79 L232.23,258.81 L232.74,258.82 L233.25,258.84 L233.76,258.86 L234.26,258.88 L234.77,258.89 L235.28,258.91 L235.79,258.93 L236.30,258.94 L236.81,258.96 L237.32,258.97 L237.83,258.99 L238.34,259.00 L238.85,259.02 L239.35,259.04 L239.86,259.05 L240.37,259.07 L240.88,259.08 L241.39,259.10 L241.90,259.11 L242.41,259.12 L242.92,259.14 L243.43,259.15 L243.94,259.17 L244.44,259.18 L244.95,259.19 L245.46,259.21 L245.97,259.22 L246.48,259.23 L246.99,259.25 L247.50,259.26 L248.01,259.27 L248.52,259.29 L249.03,259.30 L249.53,259.31 L250.04,259.32 L250.55,259.33 L251.06,259.35 L251.57,259.36 L252.08,259.37 L252.59,259.38 L253.10,259.39 L253.61,259.41 L254.12,259.42 L254.62,259.43 L255.13,259.44 L255.64,259.45 L256.15,259.46 L256.66,259.47 L257.17,259.48 L257.68,259.49 L258.19,259.50 L258.70,259.52 L259.21,259.53 L259.71,259.54 L260.22,259.55 L260.73,259.56 L261.24,259.57 L261.75,259.58 L262.26,259.59 L262.77,259.60 L263.28,259.61 L263.79,259.61 L264.30,259.62 L264.80,259.63 L265.31,259.64 L265.82,259.65 L266.33,259.66 L266.84,259.67 L267.35,259.68 L267.86,259.69 L268.37,259.70 L268.88,259.71 L269.39,259.71 L269.89,259.72 L270.40,259.73 L270.91,259.74 L271.42,259.75 L271.93,259.76 L272.44,259.76 L272.95,259.77 L273.46,259.78 L273.97,259.79 L274.48,259.80 L274.98,259.80 L275.49,259.81 L276.00,259.82 L276.51,259.83 L277.02,259.84 L277.53,259.84 L278.04,259.85 L278.55,259.86 L279.06,259.87 L279.57,259.87 L280.07,259.88 L280.58,259.89 L281.09,259.89 L281.60,259.90 L282.11,259.91 L282.62,259.91 L283.13,259.92 L283.64,259.93 L284.15,259.94 L284.66,259.94 L285.16,259.95 L285.67,259.95 L286.18,259.96 L286.69,259.97 L287.20,259.97 L287.71,259.98 L288.22,259.99 L288.73,259.99 L289.24,260.00 L289.75,260.01 L290.25,260.01 L290.76,260.02 L291.27,260.02 L291.78,260.03 L292.29,260.04 L292.80,260.04 L293.31,260.05 L293.82,260.05 L294.33,260.06 L294.84,260.06 L295.34,260.07 L295.85,260.08 L296.00,260.08" fill="none" stroke="#000" stroke-width="1.35" stroke-linejoin="round"/>
<path d="M88.60,73.50 L90.00,61.10 L90.51,67.26 L91.02,73.18 L91.53,78.85 L92.04,84.30 L92.55,89.53 L93.05,94.56 L93.56,99.40 L94.07,104.05 L94.58,108.52 L95.09,112.82 L95.60,116.96 L96.11,120.95 L96.62,124.80 L97.13,128.50 L97.64,132.08 L98.14,135.52 L98.65,138.84 L99.16,142.05 L99.67,145.14 L100.18,148.13 L100.69,151.02 L101.20,153.81 L101.71,156.50 L102.22,159.11 L102.73,161.63 L103.23,164.07 L103.74,166.43 L104.25,168.71 L104.76,170.92 L105.27,173.06 L105.78,175.13 L106.29,177.14 L106.80,179.09 L107.31,180.97 L107.82,182.80 L108.32,184.57 L108.83,186.29 L109.34,187.96 L109.85,189.58 L110.36,191.15 L110.87,192.68 L111.38,194.16 L111.89,195.60 L112.40,197.00 L112.91,198.36 L113.41,199.68 L113.92,200.96 L114.43,202.21 L114.94,203.43 L115.45,204.61 L115.96,205.76 L116.47,206.87 L116.98,207.96 L117.49,209.02 L118.00,210.05 L118.50,211.05 L119.01,212.03 L119.52,212.98 L120.03,213.91 L120.54,214.82 L121.05,215.70 L121.56,216.55 L122.07,217.39 L122.58,218.21 L123.09,219.00 L123.59,219.78 L124.10,220.54 L124.61,221.28 L125.12,222.00 L125.63,222.70 L126.14,223.39 L126.65,224.06 L127.16,224.71 L127.67,225.35 L128.18,225.98 L128.68,226.59 L129.19,227.18 L129.70,227.76 L130.21,228.33 L130.72,228.89 L131.23,229.43 L131.74,229.96 L132.25,230.48 L132.76,230.99 L133.27,231.49 L133.77,231.97 L134.28,232.45 L134.79,232.91 L135.30,233.37 L135.81,233.81 L136.32,234.25 L136.83,234.67 L137.34,235.09 L137.85,235.50 L138.36,235.90 L138.86,236.29 L139.37,236.68 L139.88,237.05 L140.39,237.42 L140.90,237.78 L141.41,238.13 L141.92,238.48 L142.43,238.82 L142.94,239.15 L143.45,239.48 L143.95,239.79 L144.46,240.11 L144.97,240.41 L145.48,240.71 L145.99,241.01 L146.50,241.30 L147.01,241.58 L147.52,241.86 L148.03,242.13 L148.54,242.40 L149.04,242.67 L149.55,242.92 L150.06,243.18 L150.57,243.42 L151.08,243.67 L151.59,243.91 L152.10,244.14 L152.61,244.37 L153.12,244.60 L153.63,244.82 L154.13,245.04 L154.64,245.25 L155.15,245.47 L155.66,245.67 L156.17,245.88 L156.68,246.07 L157.19,246.27 L157.70,246.46 L158.21,246.65 L158.72,246.84 L159.22,247.02 L159.73,247.20 L160.24,247.38 L160.75,247.55 L161.26,247.72 L161.77,247.89 L162.28,248.06 L162.79,248.22 L163.30,248.38 L163.81,248.53 L164.31,248.69 L164.82,248.84 L165.33,248.99 L165.84,249.14 L166.35,249.28 L166.86,249.42 L167.37,249.56 L167.88,249.70 L168.39,249.84 L168.90,249.97 L169.40,250.10 L169.91,250.23 L170.42,250.36 L170.93,250.48 L171.44,250.61 L171.95,250.73 L172.46,250.85 L172.97,250.96 L173.48,251.08 L173.99,251.19 L174.49,251.31 L175.00,251.42 L175.51,251.52 L176.02,251.63 L176.53,251.74 L177.04,251.84 L177.55,251.94 L178.06,252.04 L178.57,252.14 L179.08,252.24 L179.58,252.34 L180.09,252.43 L180.60,252.53 L181.11,252.62 L181.62,252.71 L182.13,252.80 L182.64,252.89 L183.15,252.98 L183.66,253.06 L184.17,253.15 L184.67,253.23 L185.18,253.31 L185.69,253.39 L186.20,253.47 L186.71,253.55 L187.22,253.63 L187.73,253.71 L188.24,253.78 L188.75,253.86 L189.26,253.93 L189.76,254.00 L190.27,254.07 L190.78,254.14 L191.29,254.21 L191.80,254.28 L192.31,254.35 L192.82,254.42 L193.33,254.48 L193.84,254.55 L194.35,254.61 L194.85,254.68 L195.36,254.74 L195.87,254.80 L196.38,254.86 L196.89,254.92 L197.40,254.98 L197.91,255.04 L198.42,255.10 L198.93,255.15 L199.44,255.21 L199.94,255.27 L200.45,255.32 L200.96,255.38 L201.47,255.43 L201.98,255.48 L202.49,255.53 L203.00,255.59 L203.51,255.64 L204.02,255.69 L204.53,255.74 L205.03,255.79 L205.54,255.83 L206.05,255.88 L206.56,255.93 L207.07,255.98 L207.58,256.02 L208.09,256.07 L208.60,256.11 L209.11,256.16 L209.62,256.20 L210.12,256.24 L210.63,256.29 L211.14,256.33 L211.65,256.37 L212.16,256.41 L212.67,256.45 L213.18,256.49 L213.69,256.53 L214.20,256.57 L214.71,256.61 L215.21,256.65 L215.72,256.69 L216.23,256.73 L216.74,256.76 L217.25,256.80 L217.76,256.84 L218.27,256.87 L218.78,256.91 L219.29,256.94 L219.80,256.98 L220.30,257.01 L220.81,257.04 L221.32,257.08 L221.83,257.11 L222.34,257.14 L222.85,257.18 L223.36,257.21 L223.87,257.24 L224.38,257.27 L224.89,257.30 L225.39,257.33 L225.90,257.36 L226.41,257.39 L226.92,257.42 L227.43,257.45 L227.94,257.48 L228.45,257.51 L228.96,257.54 L229.47,257.57 L229.98,257.59 L230.48,257.62 L230.99,257.65 L231.50,257.68 L232.01,257.70 L232.52,257.73 L233.03,257.75 L233.54,257.78 L234.05,257.81 L234.56,257.83 L235.07,257.86 L235.57,257.88 L236.08,257.90 L236.59,257.93 L237.10,257.95 L237.61,257.98 L238.12,258.00 L238.63,258.02 L239.14,258.05 L239.65,258.07 L240.16,258.09 L240.66,258.11 L241.17,258.14 L241.68,258.16 L242.19,258.18 L242.70,258.20 L243.21,258.22 L243.72,258.24 L244.23,258.26 L244.74,258.28 L245.25,258.30 L245.75,258.32 L246.26,258.34 L246.77,258.36 L247.28,258.38 L247.79,258.40 L248.30,258.42 L248.81,258.44 L249.32,258.46 L249.83,258.48 L250.34,258.50 L250.84,258.51 L251.35,258.53 L251.86,258.55 L252.37,258.57 L252.88,258.59 L253.39,258.60 L253.90,258.62 L254.41,258.64 L254.92,258.65 L255.43,258.67 L255.93,258.69 L256.44,258.70 L256.95,258.72 L257.46,258.74 L257.97,258.75 L258.48,258.77 L258.99,258.78 L259.50,258.80 L260.01,258.81 L260.52,258.83 L261.02,258.84 L261.53,258.86 L262.04,258.87 L262.55,258.89 L263.06,258.90 L263.57,258.92 L264.08,258.93 L264.59,258.95 L265.10,258.96 L265.61,258.97 L266.11,258.99 L266.62,259.00 L267.13,259.01 L267.64,259.03 L268.15,259.04 L268.66,259.05 L269.17,259.07 L269.68,259.08 L270.19,259.09 L270.70,259.11 L271.20,259.12 L271.71,259.13 L272.22,259.14 L272.73,259.16 L273.24,259.17 L273.75,259.18 L274.26,259.19 L274.77,259.20 L275.28,259.21 L275.79,259.23 L276.29,259.24 L276.80,259.25 L277.31,259.26 L277.82,259.27 L278.33,259.28 L278.84,259.29 L279.35,259.31 L279.86,259.32 L280.37,259.33 L280.88,259.34 L281.38,259.35 L281.89,259.36 L282.40,259.37 L282.91,259.38 L283.42,259.39 L283.93,259.40 L284.44,259.41 L284.95,259.42 L285.46,259.43 L285.97,259.44 L286.47,259.45 L286.98,259.46 L287.49,259.47 L288.00,259.48 L288.51,259.49 L289.02,259.50 L289.53,259.51 L290.04,259.51 L290.55,259.52 L291.06,259.53 L291.56,259.54 L292.07,259.55 L292.58,259.56 L293.09,259.57 L293.60,259.58 L294.11,259.59 L294.62,259.59 L295.13,259.60 L295.64,259.61 L296.00,259.62" fill="none" stroke="#000" stroke-width="1.35" stroke-linejoin="round"/>
<path d="M97.40,94.30 L99.30,74.80 L99.81,79.63 L100.32,84.30 L100.83,88.81 L101.34,93.17 L101.84,97.38 L102.35,101.45 L102.86,105.39 L103.37,109.20 L103.88,112.88 L104.39,116.45 L104.90,119.90 L105.41,123.25 L105.92,126.49 L106.43,129.63 L106.94,132.67 L107.44,135.62 L107.95,138.48 L108.46,141.25 L108.97,143.94 L109.48,146.55 L109.99,149.08 L110.50,151.54 L111.01,153.93 L111.52,156.25 L112.03,158.50 L112.53,160.69 L113.04,162.81 L113.55,164.88 L114.06,166.89 L114.57,168.84 L115.08,170.74 L115.59,172.59 L116.10,174.38 L116.61,176.13 L117.12,177.84 L117.62,179.49 L118.13,181.11 L118.64,182.68 L119.15,184.21 L119.66,185.70 L120.17,187.15 L120.68,188.56 L121.19,189.94 L121.70,191.29 L122.21,192.60 L122.71,193.88 L123.22,195.12 L123.73,196.34 L124.24,197.53 L124.75,198.68 L125.26,199.81 L125.77,200.91 L126.28,201.99 L126.79,203.04 L127.30,204.07 L127.80,205.07 L128.31,206.04 L128.82,207.00 L129.33,207.93 L129.84,208.85 L130.35,209.74 L130.86,210.61 L131.37,211.46 L131.88,212.29 L132.39,213.11 L132.89,213.90 L133.40,214.68 L133.91,215.44 L134.42,216.19 L134.93,216.91 L135.44,217.63 L135.95,218.32 L136.46,219.01 L136.97,219.67 L137.48,220.33 L137.98,220.97 L138.49,221.60 L139.00,222.21 L139.51,222.81 L140.02,223.40 L140.53,223.98 L141.04,224.54 L141.55,225.10 L142.06,225.64 L142.57,226.17 L143.07,226.69 L143.58,227.20 L144.09,227.70 L144.60,228.19 L145.11,228.67 L145.62,229.15 L146.13,229.61 L146.64,230.06 L147.15,230.51 L147.66,230.94 L148.16,231.37 L148.67,231.79 L149.18,232.20 L149.69,232.61 L150.20,233.01 L150.71,233.39 L151.22,233.78 L151.73,234.15 L152.24,234.52 L152.75,234.88 L153.25,235.24 L153.76,235.59 L154.27,235.93 L154.78,236.27 L155.29,236.60 L155.80,236.92 L156.31,237.24 L156.82,237.55 L157.33,237.86 L157.84,238.16 L158.34,238.46 L158.85,238.75 L159.36,239.04 L159.87,239.32 L160.38,239.60 L160.89,239.87 L161.40,240.14 L161.91,240.40 L162.42,240.66 L162.93,240.92 L163.43,241.17 L163.94,241.41 L164.45,241.66 L164.96,241.89 L165.47,242.13 L165.98,242.36 L166.49,242.59 L167.00,242.81 L167.51,243.03 L168.02,243.24 L168.52,243.46 L169.03,243.67 L169.54,243.87 L170.05,244.07 L170.56,244.27 L171.07,244.47 L171.58,244.66 L172.09,244.85 L172.60,245.04 L173.11,245.23 L173.61,245.41 L174.12,245.59 L174.63,245.76 L175.14,245.94 L175.65,246.11 L176.16,246.27 L176.67,246.44 L177.18,246.60 L177.69,246.76 L178.20,246.92 L178.70,247.08 L179.21,247.23 L179.72,247.38 L180.23,247.53 L180.74,247.68 L181.25,247.83 L181.76,247.97 L182.27,248.11 L182.78,248.25 L183.29,248.39 L183.79,248.52 L184.30,248.65 L184.81,248.78 L185.32,248.91 L185.83,249.04 L186.34,249.17 L186.85,249.29 L187.36,249.41 L187.87,249.53 L188.38,249.65 L188.88,249.77 L189.39,249.88 L189.90,250.00 L190.41,250.11 L190.92,250.22 L191.43,250.33 L191.94,250.44 L192.45,250.55 L192.96,250.65 L193.47,250.75 L193.97,250.86 L194.48,250.96 L194.99,251.06 L195.50,251.16 L196.01,251.25 L196.52,251.35 L197.03,251.44 L197.54,251.54 L198.05,251.63 L198.56,251.72 L199.06,251.81 L199.57,251.90 L200.08,251.98 L200.59,252.07 L201.10,252.16 L201.61,252.24 L202.12,252.32 L202.63,252.40 L203.14,252.49 L203.65,252.57 L204.15,252.64 L204.66,252.72 L205.17,252.80 L205.68,252.88 L206.19,252.95 L206.70,253.02 L207.21,253.10 L207.72,253.17 L208.23,253.24 L208.74,253.31 L209.24,253.38 L209.75,253.45 L210.26,253.52 L210.77,253.59 L211.28,253.65 L211.79,253.72 L212.30,253.78 L212.81,253.85 L213.32,253.91 L213.83,253.97 L214.33,254.04 L214.84,254.10 L215.35,254.16 L215.86,254.22 L216.37,254.28 L216.88,254.33 L217.39,254.39 L217.90,254.45 L218.41,254.51 L218.92,254.56 L219.42,254.62 L219.93,254.67 L220.44,254.72 L220.95,254.78 L221.46,254.83 L221.97,254.88 L222.48,254.93 L222.99,254.99 L223.50,255.04 L224.01,255.09 L224.51,255.13 L225.02,255.18 L225.53,255.23 L226.04,255.28 L226.55,255.33 L227.06,255.37 L227.57,255.42 L228.08,255.46 L228.59,255.51 L229.10,255.55 L229.60,255.60 L230.11,255.64 L230.62,255.68 L231.13,255.73 L231.64,255.77 L232.15,255.81 L232.66,255.85 L233.17,255.89 L233.68,255.93 L234.19,255.97 L234.69,256.01 L235.20,256.05 L235.71,256.09 L236.22,256.13 L236.73,256.17 L237.24,256.21 L237.75,256.24 L238.26,256.28 L238.77,256.32 L239.28,256.35 L239.78,256.39 L240.29,256.42 L240.80,256.46 L241.31,256.49 L241.82,256.53 L242.33,256.56 L242.84,256.59 L243.35,256.63 L243.86,256.66 L244.37,256.69 L244.87,256.73 L245.38,256.76 L245.89,256.79 L246.40,256.82 L246.91,256.85 L247.42,256.88 L247.93,256.91 L248.44,256.94 L248.95,256.97 L249.46,257.00 L249.96,257.03 L250.47,257.06 L250.98,257.09 L251.49,257.12 L252.00,257.15 L252.51,257.17 L253.02,257.20 L253.53,257.23 L254.04,257.25 L254.55,257.28 L255.05,257.31 L255.56,257.33 L256.07,257.36 L256.58,257.39 L257.09,257.41 L257.60,257.44 L258.11,257.46 L258.62,257.49 L259.13,257.51 L259.64,257.54 L260.14,257.56 L260.65,257.58 L261.16,257.61 L261.67,257.63 L262.18,257.65 L262.69,257.68 L263.20,257.70 L263.71,257.72 L264.22,257.75 L264.73,257.77 L265.23,257.79 L265.74,257.81 L266.25,257.83 L266.76,257.85 L267.27,257.88 L267.78,257.90 L268.29,257.92 L268.80,257.94 L269.31,257.96 L269.82,257.98 L270.32,258.00 L270.83,258.02 L271.34,258.04 L271.85,258.06 L272.36,258.08 L272.87,258.10 L273.38,258.12 L273.89,258.13 L274.40,258.15 L274.91,258.17 L275.41,258.19 L275.92,258.21 L276.43,258.23 L276.94,258.25 L277.45,258.26 L277.96,258.28 L278.47,258.30 L278.98,258.32 L279.49,258.33 L280.00,258.35 L280.50,258.37 L281.01,258.38 L281.52,258.40 L282.03,258.42 L282.54,258.43 L283.05,258.45 L283.56,258.46 L284.07,258.48 L284.58,258.50 L285.09,258.51 L285.59,258.53 L286.10,258.54 L286.61,258.56 L287.12,258.57 L287.63,258.59 L288.14,258.60 L288.65,258.62 L289.16,258.63 L289.67,258.65 L290.18,258.66 L290.68,258.68 L291.19,258.69 L291.70,258.70 L292.21,258.72 L292.72,258.73 L293.23,258.75 L293.74,258.76 L294.25,258.77 L294.76,258.79 L295.27,258.80 L295.77,258.81 L296.00,258.82" fill="none" stroke="#000" stroke-width="1.35" stroke-linejoin="round"/>
<path d="M110.30,121.40 L111.80,97.30 L112.31,100.80 L112.82,104.21 L113.33,107.52 L113.84,110.74 L114.34,113.87 L114.85,116.91 L115.36,119.87 L115.87,122.74 L116.38,125.54 L116.89,128.27 L117.40,130.92 L117.91,133.50 L118.42,136.02 L118.93,138.47 L119.44,140.85 L119.94,143.18 L120.45,145.44 L120.96,147.65 L121.47,149.80 L121.98,151.89 L122.49,153.94 L123.00,155.93 L123.51,157.88 L124.02,159.77 L124.53,161.62 L125.03,163.43 L125.54,165.19 L126.05,166.91 L126.56,168.59 L127.07,170.23 L127.58,171.83 L128.09,173.39 L128.60,174.92 L129.11,176.41 L129.62,177.87 L130.12,179.29 L130.63,180.68 L131.14,182.04 L131.65,183.37 L132.16,184.67 L132.67,185.95 L133.18,187.19 L133.69,188.41 L134.20,189.59 L134.71,190.76 L135.21,191.90 L135.72,193.01 L136.23,194.10 L136.74,195.17 L137.25,196.21 L137.76,197.23 L138.27,198.23 L138.78,199.21 L139.29,200.17 L139.80,201.11 L140.30,202.04 L140.81,202.94 L141.32,203.82 L141.83,204.69 L142.34,205.54 L142.85,206.37 L143.36,207.18 L143.87,207.98 L144.38,208.76 L144.89,209.53 L145.39,210.28 L145.90,211.02 L146.41,211.75 L146.92,212.46 L147.43,213.15 L147.94,213.84 L148.45,214.51 L148.96,215.16 L149.47,215.81 L149.98,216.44 L150.48,217.06 L150.99,217.67 L151.50,218.27 L152.01,218.86 L152.52,219.44 L153.03,220.00 L153.54,220.56 L154.05,221.11 L154.56,221.64 L155.07,222.17 L155.57,222.69 L156.08,223.19 L156.59,223.69 L157.10,224.18 L157.61,224.67 L158.12,225.14 L158.63,225.61 L159.14,226.06 L159.65,226.51 L160.16,226.95 L160.66,227.39 L161.17,227.82 L161.68,228.24 L162.19,228.65 L162.70,229.05 L163.21,229.45 L163.72,229.85 L164.23,230.23 L164.74,230.61 L165.25,230.99 L165.75,231.35 L166.26,231.71 L166.77,232.07 L167.28,232.42 L167.79,232.76 L168.30,233.10 L168.81,233.44 L169.32,233.76 L169.83,234.09 L170.34,234.40 L170.84,234.72 L171.35,235.02 L171.86,235.33 L172.37,235.63 L172.88,235.92 L173.39,236.21 L173.90,236.49 L174.41,236.77 L174.92,237.05 L175.43,237.32 L175.93,237.59 L176.44,237.85 L176.95,238.11 L177.46,238.37 L177.97,238.62 L178.48,238.87 L178.99,239.12 L179.50,239.36 L180.01,239.60 L180.52,239.83 L181.02,240.06 L181.53,240.29 L182.04,240.51 L182.55,240.73 L183.06,240.95 L183.57,241.17 L184.08,241.38 L184.59,241.59 L185.10,241.79 L185.61,241.99 L186.11,242.19 L186.62,242.39 L187.13,242.59 L187.64,242.78 L188.15,242.97 L188.66,243.15 L189.17,243.34 L189.68,243.52 L190.19,243.70 L190.70,243.87 L191.20,244.05 L191.71,244.22 L192.22,244.39 L192.73,244.56 L193.24,244.72 L193.75,244.88 L194.26,245.04 L194.77,245.20 L195.28,245.36 L195.79,245.51 L196.29,245.67 L196.80,245.82 L197.31,245.96 L197.82,246.11 L198.33,246.26 L198.84,246.40 L199.35,246.54 L199.86,246.68 L200.37,246.82 L200.88,246.95 L201.38,247.08 L201.89,247.22 L202.40,247.35 L202.91,247.48 L203.42,247.60 L203.93,247.73 L204.44,247.85 L204.95,247.97 L205.46,248.10 L205.97,248.22 L206.47,248.33 L206.98,248.45 L207.49,248.56 L208.00,248.68 L208.51,248.79 L209.02,248.90 L209.53,249.01 L210.04,249.12 L210.55,249.23 L211.06,249.33 L211.56,249.44 L212.07,249.54 L212.58,249.64 L213.09,249.74 L213.60,249.84 L214.11,249.94 L214.62,250.04 L215.13,250.13 L215.64,250.23 L216.15,250.32 L216.65,250.42 L217.16,250.51 L217.67,250.60 L218.18,250.69 L218.69,250.78 L219.20,250.86 L219.71,250.95 L220.22,251.04 L220.73,251.12 L221.24,251.20 L221.74,251.29 L222.25,251.37 L222.76,251.45 L223.27,251.53 L223.78,251.61 L224.29,251.69 L224.80,251.76 L225.31,251.84 L225.82,251.92 L226.33,251.99 L226.83,252.07 L227.34,252.14 L227.85,252.21 L228.36,252.28 L228.87,252.35 L229.38,252.42 L229.89,252.49 L230.40,252.56 L230.91,252.63 L231.42,252.70 L231.92,252.76 L232.43,252.83 L232.94,252.89 L233.45,252.96 L233.96,253.02 L234.47,253.08 L234.98,253.15 L235.49,253.21 L236.00,253.27 L236.51,253.33 L237.01,253.39 L237.52,253.45 L238.03,253.51 L238.54,253.57 L239.05,253.62 L239.56,253.68 L240.07,253.74 L240.58,253.79 L241.09,253.85 L241.60,253.90 L242.10,253.95 L242.61,254.01 L243.12,254.06 L243.63,254.11 L244.14,254.16 L244.65,254.22 L245.16,254.27 L245.67,254.32 L246.18,254.37 L246.69,254.42 L247.19,254.46 L247.70,254.51 L248.21,254.56 L248.72,254.61 L249.23,254.66 L249.74,254.70 L250.25,254.75 L250.76,254.79 L251.27,254.84 L251.78,254.88 L252.28,254.93 L252.79,254.97 L253.30,255.01 L253.81,255.06 L254.32,255.10 L254.83,255.14 L255.34,255.18 L255.85,255.22 L256.36,255.27 L256.87,255.31 L257.37,255.35 L257.88,255.39 L258.39,255.43 L258.90,255.46 L259.41,255.50 L259.92,255.54 L260.43,255.58 L260.94,255.62 L261.45,255.65 L261.96,255.69 L262.46,255.73 L262.97,255.76 L263.48,255.80 L263.99,255.84 L264.50,255.87 L265.01,255.91 L265.52,255.94 L266.03,255.98 L266.54,256.01 L267.05,256.04 L267.55,256.08 L268.06,256.11 L268.57,256.14 L269.08,256.17 L269.59,256.21 L270.10,256.24 L270.61,256.27 L271.12,256.30 L271.63,256.33 L272.14,256.36 L272.64,256.39 L273.15,256.42 L273.66,256.45 L274.17,256.48 L274.68,256.51 L275.19,256.54 L275.70,256.57 L276.21,256.60 L276.72,256.63 L277.23,256.66 L277.73,256.69 L278.24,256.71 L278.75,256.74 L279.26,256.77 L279.77,256.80 L280.28,256.82 L280.79,256.85 L281.30,256.88 L281.81,256.90 L282.32,256.93 L282.82,256.95 L283.33,256.98 L283.84,257.00 L284.35,257.03 L284.86,257.05 L285.37,257.08 L285.88,257.10 L286.39,257.13 L286.90,257.15 L287.41,257.18 L287.91,257.20 L288.42,257.22 L288.93,257.25 L289.44,257.27 L289.95,257.29 L290.46,257.31 L290.97,257.34 L291.48,257.36 L291.99,257.38 L292.50,257.40 L293.00,257.42 L293.51,257.45 L294.02,257.47 L294.53,257.49 L295.04,257.51 L295.55,257.53 L296.00,257.55" fill="none" stroke="#000" stroke-width="1.35" stroke-linejoin="round"/>
<path d="M126.50,143.50 L128.50,114.30 L129.01,116.85 L129.52,119.33 L130.03,121.76 L130.54,124.14 L131.05,126.46 L131.55,128.72 L132.06,130.94 L132.57,133.11 L133.08,135.23 L133.59,137.31 L134.10,139.33 L134.61,141.32 L135.12,143.26 L135.63,145.16 L136.13,147.02 L136.64,148.84 L137.15,150.62 L137.66,152.36 L138.17,154.07 L138.68,155.74 L139.19,157.38 L139.70,158.98 L140.21,160.55 L140.72,162.09 L141.23,163.60 L141.73,165.07 L142.24,166.52 L142.75,167.94 L143.26,169.33 L143.77,170.69 L144.28,172.02 L144.79,173.33 L145.30,174.62 L145.81,175.87 L146.31,177.11 L146.82,178.32 L147.33,179.51 L147.84,180.67 L148.35,181.81 L148.86,182.93 L149.37,184.03 L149.88,185.11 L150.39,186.17 L150.90,187.21 L151.41,188.23 L151.91,189.23 L152.42,190.22 L152.93,191.18 L153.44,192.13 L153.95,193.06 L154.46,193.98 L154.97,194.87 L155.48,195.76 L155.99,196.62 L156.50,197.47 L157.00,198.31 L157.51,199.13 L158.02,199.94 L158.53,200.73 L159.04,201.51 L159.55,202.28 L160.06,203.03 L160.57,203.77 L161.08,204.50 L161.59,205.21 L162.09,205.92 L162.60,206.61 L163.11,207.29 L163.62,207.96 L164.13,208.62 L164.64,209.26 L165.15,209.90 L165.66,210.53 L166.17,211.14 L166.68,211.75 L167.18,212.34 L167.69,212.93 L168.20,213.51 L168.71,214.07 L169.22,214.63 L169.73,215.18 L170.24,215.72 L170.75,216.26 L171.26,216.78 L171.77,217.30 L172.27,217.81 L172.78,218.31 L173.29,218.80 L173.80,219.28 L174.31,219.76 L174.82,220.23 L175.33,220.70 L175.84,221.15 L176.35,221.60 L176.86,222.04 L177.36,222.48 L177.87,222.91 L178.38,223.33 L178.89,223.75 L179.40,224.16 L179.91,224.57 L180.42,224.97 L180.93,225.36 L181.44,225.75 L181.95,226.13 L182.45,226.51 L182.96,226.88 L183.47,227.24 L183.98,227.60 L184.49,227.96 L185.00,228.31 L185.51,228.65 L186.02,228.99 L186.53,229.33 L187.04,229.66 L187.54,229.99 L188.05,230.31 L188.56,230.63 L189.07,230.94 L189.58,231.25 L190.09,231.55 L190.60,231.85 L191.11,232.15 L191.62,232.44 L192.13,232.73 L192.63,233.02 L193.14,233.30 L193.65,233.57 L194.16,233.85 L194.67,234.12 L195.18,234.38 L195.69,234.65 L196.20,234.91 L196.71,235.16 L197.22,235.41 L197.72,235.66 L198.23,235.91 L198.74,236.15 L199.25,236.39 L199.76,236.63 L200.27,236.86 L200.78,237.09 L201.29,237.32 L201.80,237.55 L202.31,237.77 L202.81,237.99 L203.32,238.20 L203.83,238.42 L204.34,238.63 L204.85,238.84 L205.36,239.04 L205.87,239.25 L206.38,239.45 L206.89,239.65 L207.40,239.84 L207.90,240.03 L208.41,240.23 L208.92,240.42 L209.43,240.60 L209.94,240.79 L210.45,240.97 L210.96,241.15 L211.47,241.33 L211.98,241.50 L212.49,241.68 L212.99,241.85 L213.50,242.02 L214.01,242.18 L214.52,242.35 L215.03,242.51 L215.54,242.67 L216.05,242.83 L216.56,242.99 L217.07,243.15 L217.58,243.30 L218.08,243.46 L218.59,243.61 L219.10,243.76 L219.61,243.90 L220.12,244.05 L220.63,244.19 L221.14,244.34 L221.65,244.48 L222.16,244.62 L222.67,244.75 L223.17,244.89 L223.68,245.02 L224.19,245.16 L224.70,245.29 L225.21,245.42 L225.72,245.55 L226.23,245.68 L226.74,245.80 L227.25,245.93 L227.76,246.05 L228.26,246.17 L228.77,246.29 L229.28,246.41 L229.79,246.53 L230.30,246.65 L230.81,246.76 L231.32,246.88 L231.83,246.99 L232.34,247.10 L232.85,247.21 L233.35,247.32 L233.86,247.43 L234.37,247.54 L234.88,247.64 L235.39,247.75 L235.90,247.85 L236.41,247.95 L236.92,248.06 L237.43,248.16 L237.94,248.26 L238.44,248.35 L238.95,248.45 L239.46,248.55 L239.97,248.64 L240.48,248.74 L240.99,248.83 L241.50,248.92 L242.01,249.02 L242.52,249.11 L243.03,249.20 L243.53,249.29 L244.04,249.37 L244.55,249.46 L245.06,249.55 L245.57,249.63 L246.08,249.72 L246.59,249.80 L247.10,249.88 L247.61,249.97 L248.12,250.05 L248.62,250.13 L249.13,250.21 L249.64,250.29 L250.15,250.37 L250.66,250.44 L251.17,250.52 L251.68,250.60 L252.19,250.67 L252.70,250.75 L253.21,250.82 L253.71,250.89 L254.22,250.96 L254.73,251.04 L255.24,251.11 L255.75,251.18 L256.26,251.25 L256.77,251.32 L257.28,251.38 L257.79,251.45 L258.30,251.52 L258.80,251.59 L259.31,251.65 L259.82,251.72 L260.33,251.78 L260.84,251.85 L261.35,251.91 L261.86,251.97 L262.37,252.03 L262.88,252.10 L263.39,252.16 L263.89,252.22 L264.40,252.28 L264.91,252.34 L265.42,252.40 L265.93,252.45 L266.44,252.51 L266.95,252.57 L267.46,252.63 L267.97,252.68 L268.48,252.74 L268.98,252.79 L269.49,252.85 L270.00,252.90 L270.51,252.96 L271.02,253.01 L271.53,253.06 L272.04,253.12 L272.55,253.17 L273.06,253.22 L273.57,253.27 L274.07,253.32 L274.58,253.37 L275.09,253.42 L275.60,253.47 L276.11,253.52 L276.62,253.57 L277.13,253.62 L277.64,253.66 L278.15,253.71 L278.66,253.76 L279.16,253.80 L279.67,253.85 L280.18,253.90 L280.69,253.94 L281.20,253.99 L281.71,254.03 L282.22,254.07 L282.73,254.12 L283.24,254.16 L283.75,254.20 L284.25,254.25 L284.76,254.29 L285.27,254.33 L285.78,254.37 L286.29,254.41 L286.80,254.46 L287.31,254.50 L287.82,254.54 L288.33,254.58 L288.84,254.62 L289.34,254.65 L289.85,254.69 L290.36,254.73 L290.87,254.77 L291.38,254.81 L291.89,254.85 L292.40,254.88 L292.91,254.92 L293.42,254.96 L293.93,254.99 L294.43,255.03 L294.94,255.07 L295.45,255.10 L295.96,255.14 L296.00,255.14" fill="none" stroke="#000" stroke-width="1.35" stroke-linejoin="round"/>
<path d="M149.60,163.20 L150.60,130.70 L151.11,132.51 L151.62,134.28 L152.13,136.02 L152.64,137.73 L153.14,139.41 L153.65,141.06 L154.16,142.68 L154.67,144.26 L155.18,145.83 L155.69,147.36 L156.20,148.87 L156.71,150.35 L157.22,151.80 L157.73,153.23 L158.24,154.63 L158.74,156.01 L159.25,157.37 L159.76,158.70 L160.27,160.01 L160.78,161.30 L161.29,162.56 L161.80,163.81 L162.31,165.03 L162.82,166.23 L163.32,167.41 L163.83,168.58 L164.34,169.72 L164.85,170.85 L165.36,171.95 L165.87,173.04 L166.38,174.11 L166.89,175.17 L167.40,176.20 L167.91,177.22 L168.42,178.23 L168.92,179.22 L169.43,180.19 L169.94,181.15 L170.45,182.09 L170.96,183.01 L171.47,183.93 L171.98,184.83 L172.49,185.71 L173.00,186.58 L173.50,187.44 L174.01,188.28 L174.52,189.11 L175.03,189.93 L175.54,190.74 L176.05,191.53 L176.56,192.32 L177.07,193.09 L177.58,193.85 L178.09,194.60 L178.59,195.33 L179.10,196.06 L179.61,196.77 L180.12,197.48 L180.63,198.17 L181.14,198.86 L181.65,199.53 L182.16,200.20 L182.67,200.85 L183.18,201.50 L183.69,202.13 L184.19,202.76 L184.70,203.38 L185.21,203.99 L185.72,204.59 L186.23,205.19 L186.74,205.77 L187.25,206.35 L187.76,206.92 L188.27,207.48 L188.78,208.03 L189.28,208.58 L189.79,209.11 L190.30,209.64 L190.81,210.17 L191.32,210.68 L191.83,211.19 L192.34,211.70 L192.85,212.19 L193.36,212.68 L193.87,213.16 L194.37,213.64 L194.88,214.11 L195.39,214.57 L195.90,215.03 L196.41,215.48 L196.92,215.93 L197.43,216.37 L197.94,216.80 L198.45,217.23 L198.96,217.65 L199.46,218.07 L199.97,218.48 L200.48,218.89 L200.99,219.29 L201.50,219.69 L202.01,220.08 L202.52,220.47 L203.03,220.85 L203.54,221.23 L204.05,221.60 L204.55,221.97 L205.06,222.33 L205.57,222.69 L206.08,223.04 L206.59,223.39 L207.10,223.74 L207.61,224.08 L208.12,224.42 L208.63,224.75 L209.14,225.08 L209.64,225.41 L210.15,225.73 L210.66,226.04 L211.17,226.36 L211.68,226.67 L212.19,226.97 L212.70,227.28 L213.21,227.58 L213.72,227.87 L214.23,228.16 L214.73,228.45 L215.24,228.74 L215.75,229.02 L216.26,229.30 L216.77,229.57 L217.28,229.85 L217.79,230.11 L218.30,230.38 L218.81,230.64 L219.32,230.90 L219.82,231.16 L220.33,231.41 L220.84,231.67 L221.35,231.91 L221.86,232.16 L222.37,232.40 L222.88,232.64 L223.39,232.88 L223.90,233.11 L224.41,233.35 L224.91,233.58 L225.42,233.80 L225.93,234.03 L226.44,234.25 L226.95,234.47 L227.46,234.69 L227.97,234.90 L228.48,235.11 L228.99,235.32 L229.50,235.53 L230.00,235.74 L230.51,235.94 L231.02,236.14 L231.53,236.34 L232.04,236.54 L232.55,236.73 L233.06,236.93 L233.57,237.12 L234.08,237.31 L234.59,237.49 L235.09,237.68 L235.60,237.86 L236.11,238.04 L236.62,238.22 L237.13,238.40 L237.64,238.58 L238.15,238.75 L238.66,238.92 L239.17,239.09 L239.68,239.26 L240.18,239.43 L240.69,239.59 L241.20,239.75 L241.71,239.92 L242.22,240.08 L242.73,240.23 L243.24,240.39 L243.75,240.55 L244.26,240.70 L244.77,240.85 L245.27,241.00 L245.78,241.15 L246.29,241.30 L246.80,241.45 L247.31,241.59 L247.82,241.73 L248.33,241.88 L248.84,242.02 L249.35,242.16 L249.86,242.29 L250.36,242.43 L250.87,242.56 L251.38,242.70 L251.89,242.83 L252.40,242.96 L252.91,243.09 L253.42,243.22 L253.93,243.35 L254.44,243.47 L254.95,243.60 L255.45,243.72 L255.96,243.85 L256.47,243.97 L256.98,244.09 L257.49,244.21 L258.00,244.33 L258.51,244.44 L259.02,244.56 L259.53,244.67 L260.04,244.79 L260.54,244.90 L261.05,245.01 L261.56,245.12 L262.07,245.23 L262.58,245.34 L263.09,245.45 L263.60,245.56 L264.11,245.66 L264.62,245.77 L265.13,245.87 L265.63,245.97 L266.14,246.07 L266.65,246.18 L267.16,246.28 L267.67,246.37 L268.18,246.47 L268.69,246.57 L269.20,246.67 L269.71,246.76 L270.22,246.86 L270.72,246.95 L271.23,247.04 L271.74,247.14 L272.25,247.23 L272.76,247.32 L273.27,247.41 L273.78,247.50 L274.29,247.59 L274.80,247.67 L275.31,247.76 L275.81,247.85 L276.32,247.93 L276.83,248.02 L277.34,248.10 L277.85,248.18 L278.36,248.27 L278.87,248.35 L279.38,248.43 L279.89,248.51 L280.40,248.59 L280.90,248.67 L281.41,248.75 L281.92,248.82 L282.43,248.90 L282.94,248.98 L283.45,249.05 L283.96,249.13 L284.47,249.20 L284.98,249.28 L285.49,249.35 L285.99,249.42 L286.50,249.49 L287.01,249.57 L287.52,249.64 L288.03,249.71 L288.54,249.78 L289.05,249.85 L289.56,249.91 L290.07,249.98 L290.58,250.05 L291.08,250.12 L291.59,250.18 L292.10,250.25 L292.61,250.31 L293.12,250.38 L293.63,250.44 L294.14,250.51 L294.65,250.57 L295.16,250.63 L295.67,250.69 L296.00,250.74" fill="none" stroke="#000" stroke-width="1.35" stroke-linejoin="round"/>
<path d="M182.90,182.20 L184.30,146.00 L184.81,147.22 L185.32,148.42 L185.83,149.61 L186.34,150.78 L186.85,151.94 L187.35,153.07 L187.86,154.20 L188.37,155.30 L188.88,156.39 L189.39,157.47 L189.90,158.53 L190.41,159.58 L190.92,160.61 L191.43,161.63 L191.94,162.64 L192.44,163.63 L192.95,164.61 L193.46,165.57 L193.97,166.52 L194.48,167.46 L194.99,168.39 L195.50,169.31 L196.01,170.21 L196.52,171.10 L197.03,171.98 L197.53,172.85 L198.04,173.71 L198.55,174.55 L199.06,175.39 L199.57,176.21 L200.08,177.03 L200.59,177.83 L201.10,178.62 L201.61,179.41 L202.12,180.18 L202.62,180.94 L203.13,181.70 L203.64,182.44 L204.15,183.18 L204.66,183.90 L205.17,184.62 L205.68,185.33 L206.19,186.03 L206.70,186.72 L207.21,187.40 L207.71,188.07 L208.22,188.74 L208.73,189.40 L209.24,190.05 L209.75,190.69 L210.26,191.32 L210.77,191.95 L211.28,192.57 L211.79,193.18 L212.30,193.79 L212.80,194.38 L213.31,194.97 L213.82,195.56 L214.33,196.13 L214.84,196.70 L215.35,197.27 L215.86,197.82 L216.37,198.37 L216.88,198.92 L217.39,199.45 L217.89,199.99 L218.40,200.51 L218.91,201.03 L219.42,201.54 L219.93,202.05 L220.44,202.55 L220.95,203.05 L221.46,203.54 L221.97,204.02 L222.48,204.50 L222.98,204.98 L223.49,205.45 L224.00,205.91 L224.51,206.37 L225.02,206.82 L225.53,207.27 L226.04,207.71 L226.55,208.15 L227.06,208.58 L227.57,209.01 L228.07,209.44 L228.58,209.86 L229.09,210.27 L229.60,210.68 L230.11,211.09 L230.62,211.49 L231.13,211.89 L231.64,212.28 L232.15,212.67 L232.66,213.06 L233.16,213.44 L233.67,213.81 L234.18,214.19 L234.69,214.56 L235.20,214.92 L235.71,215.28 L236.22,215.64 L236.73,215.99 L237.24,216.34 L237.75,216.69 L238.25,217.03 L238.76,217.37 L239.27,217.71 L239.78,218.04 L240.29,218.37 L240.80,218.70 L241.31,219.02 L241.82,219.34 L242.33,219.66 L242.84,219.97 L243.34,220.28 L243.85,220.58 L244.36,220.89 L244.87,221.19 L245.38,221.49 L245.89,221.78 L246.40,222.07 L246.91,222.36 L247.42,222.65 L247.93,222.93 L248.43,223.21 L248.94,223.49 L249.45,223.76 L249.96,224.03 L250.47,224.30 L250.98,224.57 L251.49,224.83 L252.00,225.10 L252.51,225.36 L253.02,225.61 L253.52,225.87 L254.03,226.12 L254.54,226.37 L255.05,226.61 L255.56,226.86 L256.07,227.10 L256.58,227.34 L257.09,227.58 L257.60,227.81 L258.11,228.05 L258.61,228.28 L259.12,228.51 L259.63,228.74 L260.14,228.96 L260.65,229.18 L261.16,229.40 L261.67,229.62 L262.18,229.84 L262.69,230.05 L263.20,230.27 L263.70,230.48 L264.21,230.69 L264.72,230.89 L265.23,231.10 L265.74,231.30 L266.25,231.50 L266.76,231.70 L267.27,231.90 L267.78,232.10 L268.29,232.29 L268.79,232.48 L269.30,232.67 L269.81,232.86 L270.32,233.05 L270.83,233.23 L271.34,233.42 L271.85,233.60 L272.36,233.78 L272.87,233.96 L273.38,234.14 L273.88,234.32 L274.39,234.49 L274.90,234.66 L275.41,234.83 L275.92,235.00 L276.43,235.17 L276.94,235.34 L277.45,235.51 L277.96,235.67 L278.47,235.83 L278.97,235.99 L279.48,236.15 L279.99,236.31 L280.50,236.47 L281.01,236.63 L281.52,236.78 L282.03,236.94 L282.54,237.09 L283.05,237.24 L283.56,237.39 L284.06,237.54 L284.57,237.68 L285.08,237.83 L285.59,237.97 L286.10,238.12 L286.61,238.26 L287.12,238.40 L287.63,238.54 L288.14,238.68 L288.65,238.82 L289.15,238.95 L289.66,239.09 L290.17,239.22 L290.68,239.36 L291.19,239.49 L291.70,239.62 L292.21,239.75 L292.72,239.88 L293.23,240.01 L293.74,240.13 L294.24,240.26 L294.75,240.38 L295.26,240.51 L295.77,240.63 L296.00,240.68" fill="none" stroke="#000" stroke-width="1.35" stroke-linejoin="round"/>
<path d="M233.40,199.80 L234.80,161.50 L235.31,162.28 L235.82,163.06 L236.33,163.82 L236.84,164.58 L237.35,165.33 L237.85,166.07 L238.36,166.81 L238.87,167.53 L239.38,168.25 L239.89,168.96 L240.40,169.67 L240.91,170.37 L241.42,171.06 L241.93,171.74 L242.44,172.42 L242.94,173.09 L243.45,173.75 L243.96,174.41 L244.47,175.06 L244.98,175.70 L245.49,176.34 L246.00,176.97 L246.51,177.59 L247.02,178.21 L247.53,178.82 L248.03,179.43 L248.54,180.03 L249.05,180.62 L249.56,181.21 L250.07,181.79 L250.58,182.37 L251.09,182.94 L251.60,183.51 L252.11,184.07 L252.62,184.62 L253.12,185.17 L253.63,185.72 L254.14,186.26 L254.65,186.79 L255.16,187.32 L255.67,187.84 L256.18,188.36 L256.69,188.88 L257.20,189.39 L257.71,189.89 L258.21,190.39 L258.72,190.89 L259.23,191.38 L259.74,191.86 L260.25,192.34 L260.76,192.82 L261.27,193.29 L261.78,193.76 L262.29,194.23 L262.80,194.69 L263.30,195.14 L263.81,195.59 L264.32,196.04 L264.83,196.48 L265.34,196.92 L265.85,197.36 L266.36,197.79 L266.87,198.22 L267.38,198.64 L267.89,199.06 L268.39,199.48 L268.90,199.89 L269.41,200.30 L269.92,200.70 L270.43,201.10 L270.94,201.50 L271.45,201.89 L271.96,202.29 L272.47,202.67 L272.98,203.06 L273.48,203.44 L273.99,203.81 L274.50,204.19 L275.01,204.56 L275.52,204.93 L276.03,205.29 L276.54,205.65 L277.05,206.01 L277.56,206.36 L278.07,206.72 L278.57,207.07 L279.08,207.41 L279.59,207.75 L280.10,208.09 L280.61,208.43 L281.12,208.77 L281.63,209.10 L282.14,209.43 L282.65,209.75 L283.16,210.07 L283.66,210.40 L284.17,210.71 L284.68,211.03 L285.19,211.34 L285.70,211.65 L286.21,211.96 L286.72,212.26 L287.23,212.56 L287.74,212.86 L288.25,213.16 L288.75,213.46 L289.26,213.75 L289.77,214.04 L290.28,214.33 L290.79,214.61 L291.30,214.90 L291.81,215.18 L292.32,215.45 L292.83,215.73 L293.34,216.00 L293.84,216.28 L294.35,216.55 L294.86,216.81 L295.37,217.08 L295.88,217.34 L296.00,217.40" fill="none" stroke="#000" stroke-width="1.35" stroke-linejoin="round"/>
<line x1="238.8" y1="5.3" x2="238.8" y2="260.1" stroke="#ff3434" stroke-width="1.6"/>
<rect x="386.55" y="25.72" width="4.3" height="234.78" fill="#000"/>
<rect x="452.34" y="152.04" width="4.3" height="108.46" fill="#000"/>
<rect x="495.00" y="205.21" width="4.3" height="55.29" fill="#000"/>
<rect x="524.20" y="229.88" width="4.3" height="30.62" fill="#000"/>
<rect x="545.20" y="242.64" width="4.3" height="17.86" fill="#000"/>
<rect x="560.62" y="249.44" width="4.3" height="11.06" fill="#000"/>
<rect x="572.44" y="253.48" width="4.3" height="7.02" fill="#000"/>
<rect x="581.62" y="255.82" width="4.3" height="4.68" fill="#000"/>
<rect x="588.84" y="257.31" width="4.3" height="3.19" fill="#000"/>
<rect x="594.75" y="258.37" width="4.3" height="2.13" fill="#000"/>
<rect x="599.59" y="258.90" width="4.3" height="1.60" fill="#000"/>
<rect x="603.61" y="259.22" width="4.3" height="1.28" fill="#000"/>
<rect x="606.89" y="259.54" width="4.3" height="0.96" fill="#000"/>
<text x="29.6" y="265.3" font-size="12" text-anchor="end" >0</text>
<text x="29.6" y="222.55" font-size="12" text-anchor="end" >5</text>
<text x="29.6" y="179.8" font-size="12" text-anchor="end" >10</text>
<text x="29.6" y="137.05" font-size="12" text-anchor="end" >15</text>
<text x="29.6" y="94.3" font-size="12" text-anchor="end" >20</text>
<text x="29.6" y="51.55" font-size="12" text-anchor="end" >25</text>
<text x="29.6" y="8.8" font-size="12" text-anchor="end" >30</text>
<text x="41.50" y="283.3" font-size="12" text-anchor="middle" >0</text>
<text x="105.12" y="283.3" font-size="12" text-anchor="middle" >0.5</text>
<text x="168.75" y="283.3" font-size="12" text-anchor="middle" >1</text>
<text x="232.38" y="283.3" font-size="12" text-anchor="middle" >1.5</text>
<text x="296.00" y="283.3" font-size="12" text-anchor="middle" >2</text>
<text x="370.2" y="264.90000000000003" font-size="12" text-anchor="end" >0</text>
<text x="370.2" y="222.30000000000004" font-size="12" text-anchor="end" >2</text>
<text x="370.2" y="179.70000000000005" font-size="12" text-anchor="end" >4</text>
<text x="370.2" y="137.10000000000002" font-size="12" text-anchor="end" >6</text>
<text x="370.2" y="94.50000000000001" font-size="12" text-anchor="end" >8</text>
<text x="370.2" y="51.90000000000002" font-size="12" text-anchor="end" >10</text>
<text x="370.2" y="8.3" font-size="12" text-anchor="end" >12</text>
<text x="382.30" y="283.0" font-size="12" text-anchor="middle" >0</text>
<text x="464.33" y="283.0" font-size="12" text-anchor="middle" >0.5</text>
<text x="546.37" y="283.0" font-size="12" text-anchor="middle" >1</text>
<text x="628.40" y="283.0" font-size="12" text-anchor="middle" >1.5</text>
<text x="169.3" y="301.5" font-size="12" text-anchor="middle" >ω (eV)</text>
<text x="510.2" y="301.6" font-size="12" text-anchor="middle" word-spacing="1.6" letter-spacing="-0.15">Photoelectron Energy (eV)</text>
<text transform="translate(9.4,152.9) rotate(-90)" font-size="12.5"><tspan font-size="12">σ</tspan><tspan font-size="7.5" dy="2.2">n</tspan><tspan dy="-2.2"> (Mb)</tspan></text>
<text transform="translate(350.2,166.3) rotate(-90)" font-size="12.4"><tspan font-family="Liberation Serif" font-style="italic" font-size="14">I</tspan><tspan dx="2"> (arb. units)</tspan></text>
<text x="46.3" y="20.6" font-size="14" text-anchor="start" >(a)</text>
<text x="397.5" y="20.6" font-size="14" text-anchor="start" >(b)</text>
<text x="73.6" y="30.3" font-size="14" text-anchor="start" >15</text>
<text x="105.6" y="93.2" font-size="14" text-anchor="start" >10</text>
<text x="179.6" y="139.5" font-size="14" text-anchor="start" >7</text>
<text x="253.3" y="181.2" font-size="14" text-anchor="start" >n = 6</text>
<text x="244.5" y="26.7" font-size="14">ω<tspan font-size="9" dy="3">L</tspan></text>
<text x="393.4" y="71.0" font-size="14" text-anchor="start" >n = 6</text>
<text x="450.0" y="146.2" font-size="14" text-anchor="start" >7</text>
<text x="539.0" y="237.8" font-size="14" text-anchor="start" >10</text>
<text x="593.4" y="250.1" font-size="14" text-anchor="start" >15</text>
</svg>
</body></html>
